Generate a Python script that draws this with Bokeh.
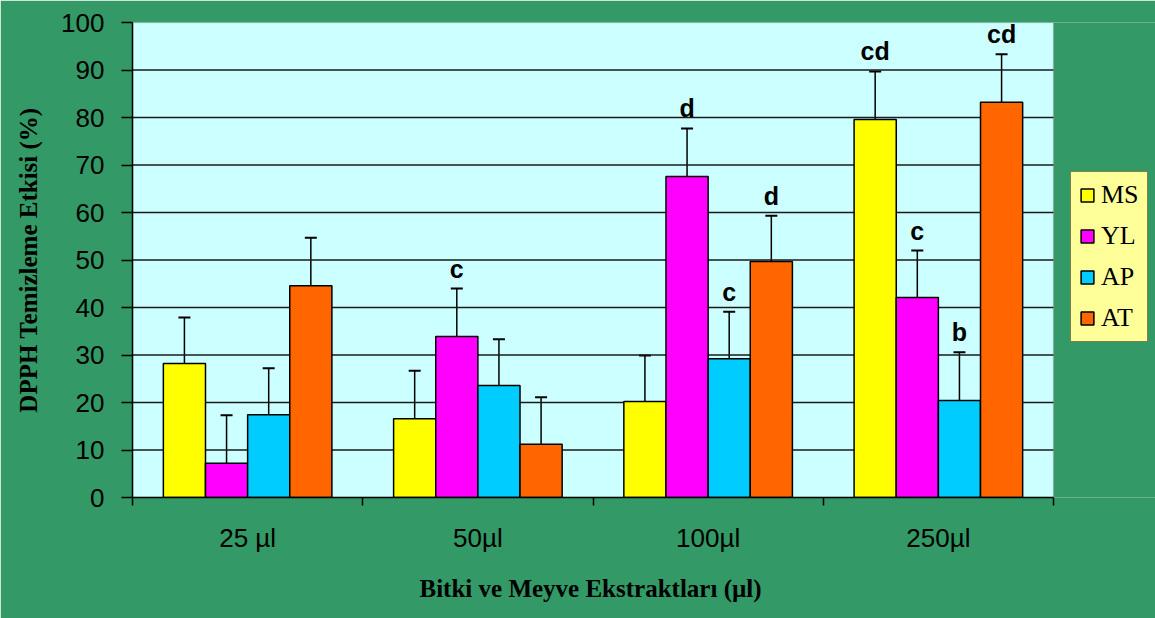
from bokeh.plotting import figure
from bokeh.models import (ColumnDataSource, Range1d, FixedTicker, Whisker, TeeHead,
                          Legend, LegendItem, LabelSet, BoxAnnotation, Title)
from bokeh.core.properties import value
from bokeh.transform import dodge
from bokeh.embed import file_html
from bokeh.resources import INLINE

# ---- data ----
groups = ["25 µl", "50µl", "100µl", "250µl"]
series = ["MS", "YL", "AP", "AT"]
colors = ["#FFFF00", "#FF00FF", "#00CCFF", "#FF6600"]
ms = [28.2, 16.6, 20.2, 79.6]
yl = [7.2, 33.9, 67.6, 42.1]
ap = [17.4, 23.6, 29.2, 20.4]
at = [44.6, 11.2, 49.7, 83.2]
ms_sd = [9.7, 10.1, 9.7, 10.1]
yl_sd = [10.1, 10.1, 10.1, 9.9]
ap_sd = [9.8, 9.7, 9.9, 10.2]
at_sd = [10.1, 9.9, 9.6, 10.1]
ms_lbl = ["", "", "", "cd"]
yl_lbl = ["", "c", "d", "c"]
ap_lbl = ["", "", "c", "b"]
at_lbl = ["", "", "d", "cd"]
y_ticks = list(range(0, 101, 10))
x_title = "Bitki ve Meyve Ekstraktları (µl)"
y_title = "DPPH Temizleme Etkisi (%)"

values = [ms, yl, ap, at]
sds = [ms_sd, yl_sd, ap_sd, at_sd]
lbls = [ms_lbl, yl_lbl, ap_lbl, at_lbl]

SANS = "Liberation Sans"
SERIF = "Liberation Serif"
GREEN = "#339966"

W, H = 1155, 618
LEFT, TOP, BOTTOM = 132, 22, 121
PLOT_W = 921                     # width of the cyan plot area in px
frame_w = W - LEFT
n = len(groups)
x_end = n * frame_w / PLOT_W     # frame extends right so the legend is not clipped

p = figure(width=W, height=H, output_backend="svg", toolbar_location=None,
           x_range=Range1d(0, x_end), y_range=Range1d(0, 100),
           min_border_left=LEFT, min_border_right=0, min_border_top=TOP,
           min_border_bottom=BOTTOM)
p.background_fill_color = GREEN
p.border_fill_color = GREEN
p.outline_line_color = None

plot_area = BoxAnnotation(left=0, right=n, bottom=0, top=100, level="image",
                          fill_color="#CCFFFF", fill_alpha=1.0,
                          line_color="#808080", line_width=1.5)
p.add_layout(plot_area)

# horizontal grid lines (only across the plot area)
grid_y = y_ticks[1:-1]
p.segment(x0=[0] * len(grid_y), x1=[n] * len(grid_y), y0=grid_y, y1=grid_y,
          line_color="#1a1a1a", line_width=1.5)

centers = [i + 0.5 for i in range(n)]
bw = 0.183
items = []
for k, name in enumerate(series):
    top = [v + s for v, s in zip(values[k], sds[k])]
    src = ColumnDataSource(dict(x=centers, v=values[k], top=top, lbl=lbls[k]))
    off = (k - 1.5) * bw
    r = p.vbar(x=dodge("x", off, range=p.x_range), top="v", width=bw, source=src,
               fill_color=colors[k], line_color="black", line_width=1.5)
    items.append(LegendItem(label=name, renderers=[r]))
    w = Whisker(base=dodge("x", off, range=p.x_range), lower="v", upper="top",
                source=src, line_color="black", line_width=1.5,
                upper_head=TeeHead(size=12, line_color="black", line_width=2),
                lower_head=None)
    p.add_layout(w)
    lab = LabelSet(x=dodge("x", off, range=p.x_range), y="top", text="lbl", source=src,
                   text_align="center", text_baseline="middle", y_offset=20,
                   text_font=value(SANS), text_font_style="bold",
                   text_font_size="25px", text_color="black")
    p.add_layout(lab)

# axes
p.yaxis.ticker = FixedTicker(ticks=y_ticks)
p.yaxis.major_label_text_font = SANS
p.yaxis.major_label_text_font_size = "26px"
p.yaxis.major_label_text_color = "black"
p.yaxis.major_tick_out = 11
p.yaxis.major_tick_in = 0
p.yaxis.minor_tick_line_color = None
p.yaxis.major_label_standoff = 17
p.yaxis.axis_line_color = "black"
p.yaxis.axis_line_width = 1.5
p.yaxis.major_tick_line_width = 1.5
p.yaxis.axis_label = y_title
p.yaxis.axis_label_text_font = SERIF
p.yaxis.axis_label_text_font_style = "bold"
p.yaxis.axis_label_text_font_size = "25px"
p.yaxis.axis_label_text_color = "black"
p.yaxis.axis_label_standoff = 16

p.xaxis.bounds = (0, n)
p.xaxis.ticker = FixedTicker(ticks=centers, minor_ticks=list(range(n + 1)))
p.xaxis.major_label_overrides = {c: g for c, g in zip(centers, groups)}
p.xaxis.major_label_text_font = SANS
p.xaxis.major_label_text_font_size = "26px"
p.xaxis.major_label_text_color = "black"
p.xaxis.major_tick_line_color = None
p.xaxis.major_tick_out = 0
p.xaxis.major_tick_in = 0
p.xaxis.minor_tick_out = 8
p.xaxis.minor_tick_in = 0
p.xaxis.minor_tick_line_color = "black"
p.xaxis.minor_tick_line_width = 1.5
p.xaxis.major_label_standoff = 17
p.xaxis.axis_line_color = "black"
p.xaxis.axis_line_width = 1.5

p.xgrid.grid_line_color = None
p.ygrid.grid_line_color = None

# x-axis title centred under the cyan plot area
xt = Title(text=x_title, align="left", offset=287, standoff=34,
           text_font=SERIF, text_font_style="bold", text_font_size="25px",
           text_color="black")
p.add_layout(xt, "below")

legend = Legend(items=items, location=(938, 155), orientation="vertical",
                background_fill_color="#FFFF99", background_fill_alpha=1.0,
                border_line_color="black", border_line_width=1.5,
                label_text_font=SERIF, label_text_font_size="26px",
                label_text_color="black", label_height=26,
                glyph_width=16, glyph_height=16, spacing=11, padding=8,
                label_standoff=6, margin=0)
p.add_layout(legend, "center")

open("out.html", "w").write(file_html(p, INLINE))
